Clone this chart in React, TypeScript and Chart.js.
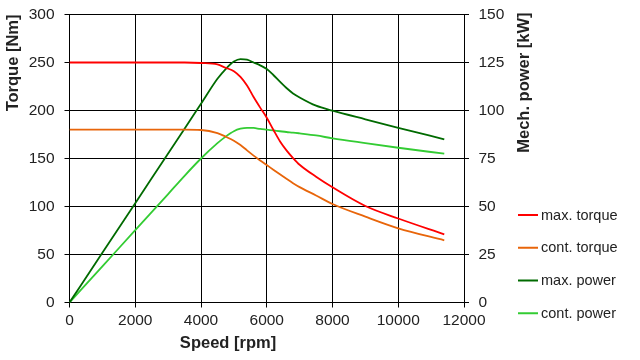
import React, { useEffect, useRef } from 'react';
import { Chart, registerables } from 'chart.js';

Chart.register(...registerables);

// Speed points [rpm] at which the curves were read
const speedRpm = [0, 1000, 2000, 3000, 3500, 4000, 4500, 4750, 5000, 5200, 5400, 5600, 5800, 6000, 6200, 6400, 6600, 6800, 7000, 7500, 8000, 9000, 10000, 11400];

// Torque [Nm] (left axis)
const maxTorque = [250, 250, 250, 250, 250, 249.5, 248, 244.5, 241, 235, 226, 214, 203, 192.5, 180, 168, 158.5, 150.5, 143.5, 131, 120, 100.5, 87.5, 71];
const contTorque = [180, 180, 180, 180, 180, 179.7, 176.5, 172.7, 168.5, 164, 158.5, 153, 148, 143.2, 138.3, 133.5, 128.8, 124.3, 120.2, 111.5, 102.6, 89.4, 77.3, 64.8];

// Mechanical power [kW] (right axis)
const maxPower = [0, 25.9, 51.7, 77.6, 90.5, 103.5, 116.5, 121.6, 125.5, 126.8, 126.5, 125, 123.5, 121.6, 118.5, 115, 111.7, 108.9, 106.8, 102.5, 99.9, 95.4, 91, 85];
const contPower = [0, 18.8, 37.7, 56.5, 66, 75, 83, 86.4, 89.2, 90.5, 91, 90.9, 90.4, 90, 89.6, 89.2, 88.8, 88.5, 88.1, 87, 85.5, 83, 80.6, 77.5];

const seriesLabels = ['max. torque', 'cont. torque', 'max. power', 'cont. power'];
const seriesColors = ['#ff0000', '#e8650a', '#006a00', '#33cc33'];

const xTitle = 'Speed [rpm]';
const yTitle = 'Torque [Nm]';
const y1Title = 'Mech. power [kW]';

const FONT = '"Liberation Sans", Arial, Helvetica, sans-serif';
const TEXT = '#222';

const toPoints = (ys: number[]) => ys.map((y, i) => ({ x: speedRpm[i], y }));

const overlayPlugin = {
  id: 'overlayTitlesLegend',
  afterDraw(chart: any) {
    const { ctx, chartArea } = chart;
    ctx.save();
    ctx.fillStyle = TEXT;
    ctx.font = `bold 16.5px ${FONT}`;
    ctx.textBaseline = 'middle';
    ctx.textAlign = 'center';
    ctx.fillText(xTitle, chartArea.left + 158.5, chartArea.bottom + 40.5);
    ctx.save();
    ctx.translate(chartArea.right + 60, chartArea.top - 2);
    ctx.rotate(-Math.PI / 2);
    ctx.textAlign = 'right';
    ctx.fillText(y1Title, 0, 0);
    ctx.restore();

    // legend
    ctx.font = `14.5px ${FONT}`;
    ctx.textAlign = 'left';
    const x0 = chartArea.right + 54;
    chart.data.datasets.forEach((ds: any, i: number) => {
      const y = chartArea.top + 200.5 + i * 32.75;
      ctx.strokeStyle = ds.borderColor;
      ctx.lineWidth = 2;
      ctx.beginPath();
      ctx.moveTo(x0, y);
      ctx.lineTo(x0 + 20, y);
      ctx.stroke();
      ctx.fillStyle = TEXT;
      ctx.fillText(ds.label, x0 + 23, y + 0.5);
    });
    ctx.restore();
  },
};

export default function App() {
  const canvasRef = useRef<HTMLCanvasElement | null>(null);

  useEffect(() => {
    if (!canvasRef.current) return;
    const series = [maxTorque, contTorque, maxPower, contPower];
    const chart = new Chart(canvasRef.current, {
      type: 'line',
      data: {
        datasets: series.map((vals, i) => ({
          label: seriesLabels[i],
          data: toPoints(vals),
          borderColor: seriesColors[i],
          backgroundColor: seriesColors[i],
          borderWidth: 1.8,
          pointRadius: 0,
          fill: false,
          cubicInterpolationMode: 'monotone' as const,
          yAxisID: i < 2 ? 'y' : 'y1',
        })),
      },
      options: {
        responsive: false,
        animation: false,
        devicePixelRatio: 1,
        layout: { padding: { top: 14.5, left: 0, right: 0, bottom: 0 } },
        plugins: {
          legend: { display: false },
          tooltip: { enabled: false },
        },
        scales: {
          x: {
            type: 'linear',
            min: 0,
            max: 12000,
            ticks: {
              stepSize: 2000,
              color: TEXT,
              font: { family: FONT, size: 15.5 },
              padding: 4,
              maxRotation: 0,
              callback: (v: any) => String(v),
            },
            grid: { color: '#000', lineWidth: 1, tickLength: 5, tickColor: '#000' },
            border: { display: true, color: '#000', width: 1 },
            afterFit: (s: any) => { s.height = 57.5; s.paddingLeft = 0; s.paddingRight = 0; },
          },
          y: {
            position: 'left',
            min: 0,
            max: 300,
            ticks: {
              stepSize: 50,
              color: TEXT,
              font: { family: FONT, size: 15.5 },
              padding: 10,
            },
            grid: { color: '#000', lineWidth: 1, tickLength: 5, tickColor: '#000' },
            border: { display: true, color: '#000', width: 1 },
            title: {
              display: true,
              text: yTitle,
              align: 'end',
              color: TEXT,
              font: { family: FONT, size: 16.5, weight: 'bold' },
              padding: { top: 4, bottom: 0 },
            },
            afterFit: (s: any) => { s.width = 69.5; s.paddingTop = 0; s.paddingBottom = 0; },
          },
          y1: {
            position: 'right',
            min: 0,
            max: 150,
            ticks: {
              stepSize: 25,
              color: TEXT,
              font: { family: FONT, size: 15.5 },
              padding: 9.5,
            },
            grid: { drawOnChartArea: false, color: '#000', lineWidth: 1, tickLength: 5, tickColor: '#000' },
            border: { display: true, color: '#000', width: 1 },
            afterFit: (s: any) => { s.width = 176; s.paddingTop = 0; s.paddingBottom = 0; },
          },
        },
      },
      plugins: [overlayPlugin],
    } as any);
    return () => chart.destroy();
  }, []);

  return (
    <div style={{ position: 'absolute', left: 0, top: 0, width: 640, height: 360, background: '#fff' }}>
      <canvas ref={canvasRef} width={640} height={360} />
    </div>
  );
}
